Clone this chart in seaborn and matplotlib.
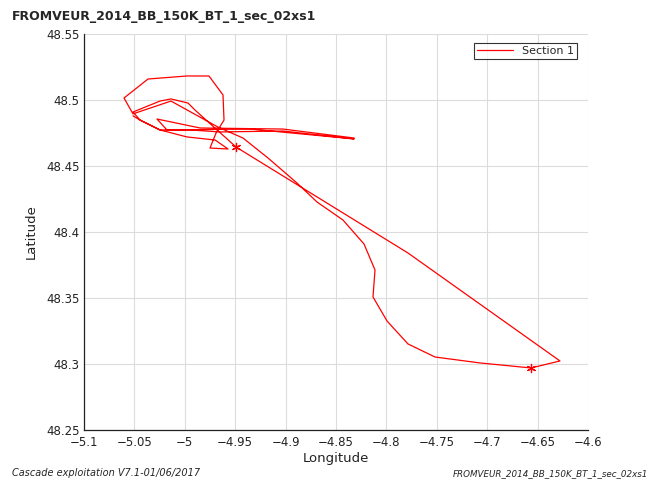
import matplotlib
matplotlib.use("Agg")
import matplotlib.pyplot as plt
import seaborn as sns
import pandas as pd

title = "FROMVEUR_2014_BB_150K_BT_1_sec_02xs1"
footer_left = "Cascade exploitation V7.1-01/06/2017"
footer_right = "FROMVEUR_2014_BB_150K_BT_1_sec_02xs1"
series_name = "Section 1"

track_lon = [-4.832, -4.9026, -4.9849, -5.0276, -5.0177, -4.9353, -4.832, -4.9026,
             -4.9651, -4.9948, -5.0246, -5.0444, -5.0514, -5.0246, -5.0137, -4.9968,
             -4.9899, -4.9492, -4.7786, -4.6278, -4.6565, -4.7071, -4.7518, -4.7786,
             -4.7994, -4.8133, -4.8113, -4.8222, -4.8431, -4.8688, -4.8887, -4.9175,
             -4.9423, -4.9671, -5.0137, -5.0514, -5.0603, -5.0365, -4.9978, -4.976,
             -4.9621, -4.9611, -4.969, -4.975, -4.9571, -4.970, -4.9978, -5.0246,
             -5.0444, -5.0514]
track_lat = [48.4712, 48.4780, 48.4788, 48.4856, 48.4773, 48.4780, 48.4705, 48.4765,
             48.4758, 48.4773, 48.4773, 48.4848, 48.4909, 48.4992, 48.5008, 48.4977,
             48.4924, 48.4644, 48.3841, 48.3023, 48.2970, 48.3008, 48.3053, 48.3152,
             48.3326, 48.3508, 48.3712, 48.3909, 48.4091, 48.4227, 48.4371, 48.4561,
             48.4712, 48.4795, 48.4992, 48.4895, 48.5015, 48.5159, 48.5182, 48.5182,
             48.5038, 48.4848, 48.4750, 48.4636, 48.4629, 48.4697, 48.4720, 48.4773,
             48.4848, 48.4880]

section_lon = [-4.9492, -4.6565]
section_lat = [48.4644, 48.2970]

x_ticks = [-5.1, -5.05, -5.0, -4.95, -4.9, -4.85, -4.8, -4.75, -4.7, -4.65, -4.6]
x_labels = ["\u22125.1", "\u22125.05", "\u22125", "\u22124.95", "\u22124.9", "\u22124.85",
            "\u22124.8", "\u22124.75", "\u22124.7", "\u22124.65", "\u22124.6"]
y_ticks = [48.25, 48.3, 48.35, 48.4, 48.45, 48.5, 48.55]
y_labels = ["48.25", "48.3", "48.35", "48.4", "48.45", "48.5", "48.55"]

sns.set_theme(style="white")
plt.rcParams['font.family'] = ['DejaVu Sans']

fig = plt.figure(figsize=(6.51, 4.83), dpi=100)
ax = fig.add_axes([84/651, 1-430/483, 504/651, 396/483])

track = pd.DataFrame({"lon": track_lon, "lat": track_lat})
sns.lineplot(data=track, x="lon", y="lat", sort=False, estimator=None, color="red",
             linewidth=0.9, ax=ax, label=series_name)
sec = pd.DataFrame({"lon": section_lon, "lat": section_lat})
sns.scatterplot(data=sec, x="lon", y="lat", marker=(6, 2, 0), s=35, color="red",
                linewidth=0.9, ax=ax, legend=False)

ax.set_xlim(-5.1, -4.6)
ax.set_ylim(48.25, 48.55)
ax.set_xticks(x_ticks)
ax.set_xticklabels(x_labels, fontsize=8.5, color="#222222")
ax.set_yticks(y_ticks)
ax.set_yticklabels(y_labels, fontsize=8.5, color="#222222")
ax.grid(True, color="#dcdcdc", linewidth=0.8)
ax.set_axisbelow(True)
for side in ["top", "right"]:
    ax.spines[side].set_visible(False)
for side in ["left", "bottom"]:
    ax.spines[side].set_color("#222222")
    ax.spines[side].set_linewidth(0.9)
ax.tick_params(direction="in", length=4, width=0.8, color="#222222", pad=3)
ax.tick_params(axis="x", pad=4.5)
ax.set_xlabel("Longitude", fontsize=9.5, color="#222222", labelpad=2)
ax.set_ylabel("Latitude", fontsize=9.5, color="#222222", labelpad=6)

leg = ax.legend(loc="upper right", bbox_to_anchor=(0.978, 0.978), fontsize=8,
                frameon=True, fancybox=False, edgecolor="black", borderpad=0.3,
                handlelength=3.2, borderaxespad=0)
leg.get_frame().set_linewidth(0.8)

fig.text(12/651, 1-16.5/483, title, fontsize=9.0, fontweight="bold", va="center", ha="left")
fig.text(12/651, 1-473.5/483, footer_left, fontsize=7, style="italic", va="center", ha="left")
fig.text(648/651, 1-473.5/483, footer_right, fontsize=6.3, style="italic", va="center", ha="right")

fig.savefig("out.png", dpi=100)
